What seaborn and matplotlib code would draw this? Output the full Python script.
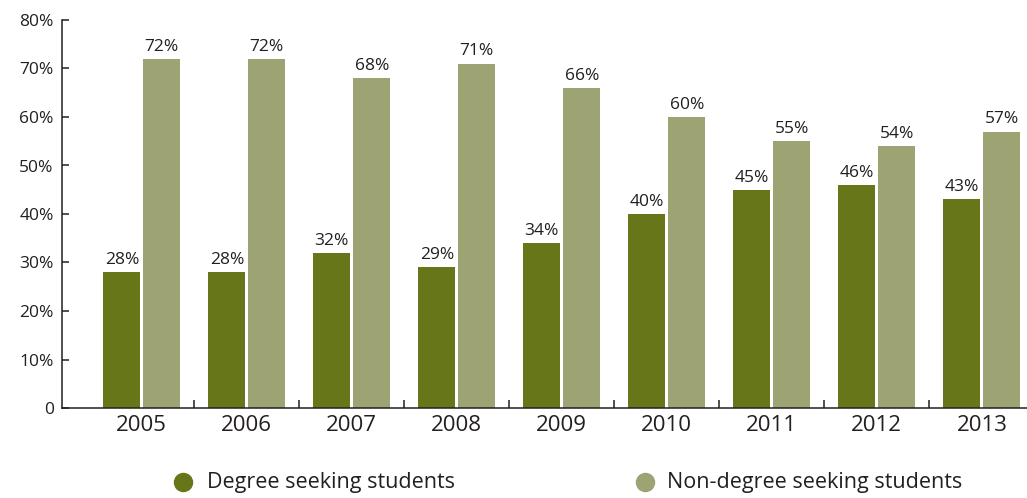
import matplotlib
matplotlib.use("Agg")
import matplotlib.pyplot as plt
from matplotlib.lines import Line2D
from matplotlib.ticker import FixedLocator
import seaborn as sns
import pandas as pd

years = ["2005", "2006", "2007", "2008", "2009", "2010", "2011", "2012", "2013"]
degree = [28, 28, 32, 29, 34, 40, 45, 46, 43]
non_degree = [72, 72, 68, 71, 66, 60, 55, 54, 57]
series_names = ["Degree seeking students", "Non-degree seeking students"]
y_ticks = [0, 10, 20, 30, 40, 50, 60, 70, 80]
y_tick_labels = ["0", "10%", "20%", "30%", "40%", "50%", "60%", "70%", "80%"]

dark = "#68761a"
light = "#9ea374"
ink = "#231f20"

df = pd.DataFrame({
    "year": years * 2,
    "value": degree + non_degree,
    "series": [series_names[0]] * len(years) + [series_names[1]] * len(years),
})

sns.set_style("white")
plt.rcParams["font.family"] = ["Open Sans", "DejaVu Sans"]

fig = plt.figure(figsize=(10.27, 4.98), dpi=100)
ax = fig.add_axes([62 / 1027, 90 / 498, (1027 - 62) / 1027, 388 / 498])

sns.barplot(data=df, x="year", y="value", hue="series", order=years,
            hue_order=series_names, palette=[dark, light], width=0.76,
            gap=0.07, saturation=1, legend=False, linewidth=0, ax=ax)

for cont in ax.containers:
    ax.bar_label(cont, labels=[f"{int(round(b.get_height()))}%" for b in cont],
                 padding=3, fontsize=12.5, color=ink)

ax.set_xlim(-0.76, 8.43)
ax.set_ylim(0, 80)
ax.set_yticks(y_ticks)
ax.set_yticklabels(y_tick_labels)
ax.set_xlabel("")
ax.set_ylabel("")

for s in ["top", "right"]:
    ax.spines[s].set_visible(False)
for s in ["left", "bottom"]:
    ax.spines[s].set_color(ink)
    ax.spines[s].set_linewidth(1.1)

ax.tick_params(axis="y", direction="in", length=5, width=1.1, color=ink,
               labelsize=12.5, labelcolor=ink, pad=6, left=True)
ax.tick_params(axis="x", which="major", length=0, labelsize=16,
               labelcolor=ink, pad=5, bottom=True)
ax.xaxis.set_minor_locator(FixedLocator([i + 0.5 for i in range(len(years) - 1)]))
ax.tick_params(axis="x", which="minor", direction="in", length=6, width=1.1,
               color=ink, bottom=True)

# legend: circle markers with text
legend_y = 1 - 482 / 498
for name, col, mx, tx in [(series_names[0], dark, 183, 207),
                          (series_names[1], light, 645, 667)]:
    fig.add_artist(Line2D([mx / 1027], [legend_y], marker="o", linestyle="",
                          markersize=13, markerfacecolor=col,
                          markeredgecolor=col, transform=fig.transFigure))
    fig.text(tx / 1027, legend_y, name, ha="left", va="center",
             fontsize=15.5, color=ink)

fig.savefig("out.png", dpi=100)
